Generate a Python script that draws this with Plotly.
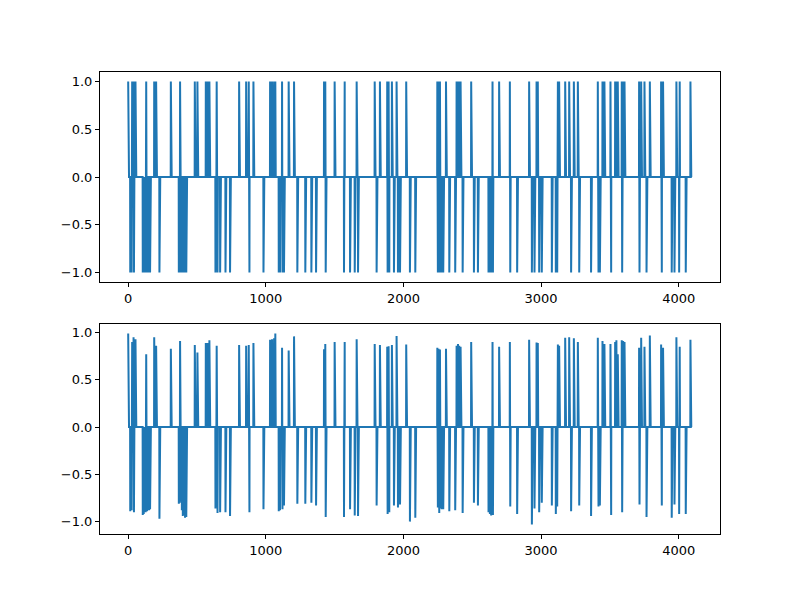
import numpy as np
import plotly.graph_objects as go
from plotly.subplots import make_subplots

n_samples = 4096

pos_idx = [0, 29, 39, 53, 131, 189, 203, 310, 377, 484, 503, 564, 576, 590, 643, 806, 857, 876, 910,
           1031, 1045, 1060, 1069, 1118, 1166, 1205, 1423, 1432, 1500, 1573, 1660, 1791, 1829, 1882, 1892, 1916, 1950, 2020,
           2246, 2255, 2265, 2309, 2386, 2396, 2405, 2415, 2492, 2647, 2695, 2773, 2913, 2967, 2976,
           3122, 3131, 3175, 3204, 3238, 3267, 3412, 3446, 3460, 3504, 3538, 3547, 3557, 3586, 3596, 3606,
           3712, 3727, 3751, 3790, 3872, 3886, 3983, 4007, 4085]
pos_amp = [0.99, 0.90, 0.95, 0.93, 0.77, 0.95, 0.86, 0.83, 0.91, 0.87, 0.79, 0.89, 0.89, 0.92, 0.86, 0.87, 0.86, 0.87, 0.89,
           0.925, 0.93, 0.94, 0.99, 0.84, 0.81, 0.96, 0.825, 0.88, 0.90, 0.90, 0.93, 0.88, 0.87, 0.85, 0.855, 0.87, 0.965, 0.875,
           0.84, 0.83, 0.82, 0.83, 0.86, 0.88, 0.86, 0.85, 0.90, 0.90, 0.85, 0.90, 0.925, 0.895, 0.89,
           0.875, 0.86, 0.945, 0.95, 0.94, 0.90, 0.945, 0.91, 0.88, 0.88, 0.90, 0.92, 0.77, 0.92, 0.91, 0.90,
           0.84, 0.945, 0.85, 0.97, 0.875, 0.84, 0.95, 0.85, 0.925]

neg_idx = [15, 25, 42, 106, 113, 120, 127, 137, 145, 152, 159, 227, 368, 375, 382, 390, 397, 405, 413, 422,
           634, 649, 668, 707, 740, 881, 983,
           1094, 1103, 1121, 1132, 1229, 1287, 1331, 1365, 1435, 1568, 1612, 1646, 1670, 1805, 1885, 1897, 1931, 1960, 1975,
           2047, 2086, 2250, 2260, 2270, 2279, 2289, 2333, 2376, 2430, 2512, 2541, 2618, 2628, 2637, 2650, 2776, 2826,
           2933, 2952, 2986, 3005,
           3078, 3107, 3117, 3218, 3277, 3363, 3417, 3427, 3509, 3589, 3715, 3766, 3877, 3949, 3969, 4003, 4051]
neg_amp = [-0.89, -0.88, -0.90, -0.93, -0.92, -0.89, -0.90, -0.89, -0.88, -0.88, -0.87, -0.97,
           -0.81, -0.80, -0.78, -0.88, -0.94, -0.93, -0.96, -0.95,
           -0.86, -0.91, -0.90, -0.90, -0.94, -0.90, -0.87,
           -0.89, -0.88, -0.87, -0.83, -0.81, -0.81, -0.80, -0.83, -0.95, -0.95, -0.87, -0.935, -0.94, -0.83, -0.92, -0.90,
           -0.83, -0.85, -0.82,
           -1.0, -0.96, -0.85, -0.91, -0.86, -0.87, -0.87, -0.89, -0.88, -0.91, -0.80, -0.83, -0.90, -0.92, -0.935, -0.93,
           -0.84, -0.92, -1.03, -0.86, -0.90, -0.80,
           -0.83, -0.92, -0.84, -0.89, -0.83, -0.94, -0.84, -0.83, -0.93, -0.90, -0.82, -0.95, -0.83, -0.96, -0.82,
           -0.92, -0.92]

x = np.arange(n_samples)
sparse_sign = np.zeros(n_samples)
noisy = np.zeros(n_samples)
for i, a in zip(pos_idx, pos_amp):
    sparse_sign[i] = 1.0
    noisy[i] = a
for i, a in zip(neg_idx, neg_amp):
    sparse_sign[i] = -1.0
    noisy[i] = a

color = "#1f77b4"
fig = make_subplots(rows=2, cols=1, vertical_spacing=42 / 462)
fig.add_trace(go.Scatter(x=x, y=sparse_sign, mode="lines", line=dict(color=color, width=2)), row=1, col=1)
fig.add_trace(go.Scatter(x=x, y=noisy, mode="lines", line=dict(color=color, width=2)), row=2, col=1)

def pad(lo, hi):
    d = hi - lo
    return [lo - 0.05 * d, hi + 0.05 * d]

xr = pad(0, n_samples - 1)
axis_common = dict(showline=True, mirror=True, linecolor="black", linewidth=1, ticks="outside",
                   ticklen=4, tickwidth=1, tickcolor="black", showgrid=False, zeroline=False,
                   tickfont=dict(family="DejaVu Sans", size=13, color="black"))
for r in (1, 2):
    fig.update_xaxes(range=xr, tickvals=[0, 1000, 2000, 3000, 4000], row=r, col=1, **axis_common)
fig.update_yaxes(range=pad(-1, 1), tickvals=[-1, -0.5, 0, 0.5, 1], tickformat=".1f", row=1, col=1, **axis_common)
fig.update_yaxes(range=pad(min(neg_amp), max(pos_amp)), tickvals=[-1, -0.5, 0, 0.5, 1], tickformat=".1f",
                 row=2, col=1, **axis_common)

fig.update_layout(width=800, height=600, margin=dict(l=100, r=80, t=72, b=66),
                  plot_bgcolor="white", paper_bgcolor="white", showlegend=False)
fig.write_html("out.html")
